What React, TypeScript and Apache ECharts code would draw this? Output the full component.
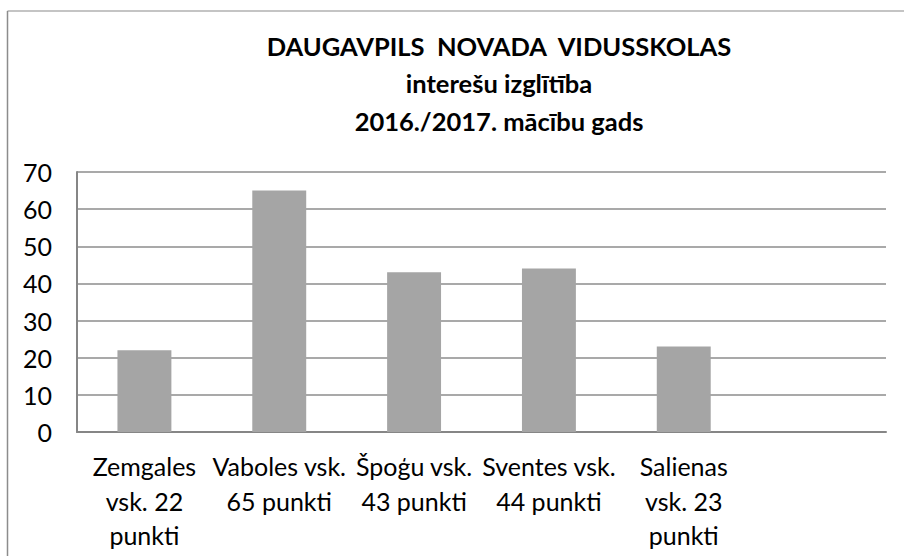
import React, { useEffect, useRef } from "react";
import * as echarts from "echarts";

const titleLines = [
  "DAUGAVPILS  NOVADA  VIDUSSKOLAS",
  "interešu izglītība",
  "2016./2017. mācību gads",
];
const categories = [
  "Zemgales\nvsk. 22\npunkti",
  "Vaboles vsk.\n65 punkti",
  "Špoģu vsk.\n43 punkti",
  "Sventes vsk.\n44 punkti",
  "Salienas\nvsk. 23\npunkti",
  "",
];
const values: (number | string)[] = [22, 65, 43, 44, 23, "-"];
const yTicks = { min: 0, max: 70, interval: 10 };

const FONT = "Lato";

export default function App() {
  const ref = useRef<HTMLDivElement>(null);
  useEffect(() => {
    document.body.style.margin = "0";
    const chart = echarts.init(ref.current!, null, { renderer: "svg" });
    chart.setOption({
      animation: false,
      backgroundColor: "#ffffff",
      textStyle: { fontFamily: FONT },
      title: {
        text: titleLines.join("\n"),
        left: 494,
        top: 22,
        textAlign: "center",
        textStyle: {
          fontFamily: FONT,
          fontSize: 25.5,
          fontWeight: "bold",
          color: "#000000",
          lineHeight: 37.5,
        },
      },
      graphic: [
        {
          type: "line",
          shape: { x1: 7.5, y1: 11, x2: 904, y2: 11 },
          style: { stroke: "#b0b0b0", lineWidth: 1.5 },
        },
        {
          type: "line",
          shape: { x1: 7.5, y1: 11, x2: 7.5, y2: 556 },
          style: { stroke: "#8c8c8c", lineWidth: 1.5 },
        },
      ],
      grid: { left: 77, right: 18, top: 172, bottom: 124, containLabel: false },
      xAxis: {
        type: "category",
        data: categories,
        axisLine: { show: true, lineStyle: { color: "#868686", width: 2 } },
        axisTick: { show: false },
        axisLabel: {
          interval: 0,
          margin: 17,
          color: "#000000",
          fontFamily: FONT,
          fontSize: 25,
          lineHeight: 34.5,
        },
      },
      yAxis: {
        type: "value",
        min: yTicks.min,
        max: yTicks.max,
        interval: yTicks.interval,
        axisLine: { show: true, lineStyle: { color: "#868686", width: 2 } },
        axisTick: { show: false },
        splitLine: { show: true, lineStyle: { color: "#8c8c8c", width: 1.5 } },
        axisLabel: {
          margin: 25,
          color: "#000000",
          fontFamily: FONT,
          fontSize: 25,
        },
      },
      series: [
        {
          type: "bar",
          data: values,
          barCategoryGap: "60%",
          itemStyle: { color: "#A5A5A5" },
        },
      ],
    });
    return () => chart.dispose();
  }, []);
  return <div ref={ref} style={{ width: 904, height: 556 }} />;
}
